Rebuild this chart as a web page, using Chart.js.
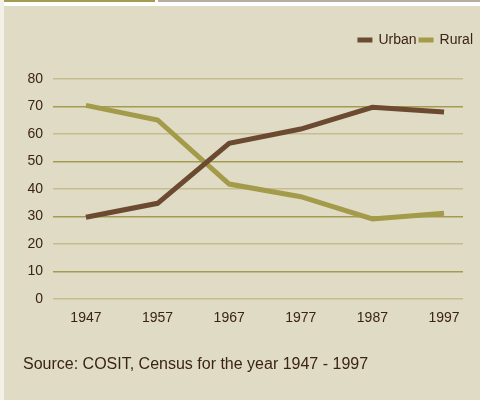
<!DOCTYPE html>
<html>
<head>
<meta charset="utf-8">
<script src="https://cdn.jsdelivr.net/npm/chart.js@4"></script>
<style>
body{margin:0;background:#fff;}
#wrap{position:relative;width:480px;height:400px;overflow:hidden;background:#fff;}
#left{position:absolute;left:0;top:0;width:4px;height:400px;background:#f3f0e8;}
#bar1{position:absolute;left:4px;top:0;width:151px;height:2px;background:#a39b4f;}
#bar2{position:absolute;left:158px;top:0;width:322px;height:2px;background:#b9ada2;}
#panel{position:absolute;left:4px;top:6px;width:476px;height:394px;background:#e0dbc5;}
#src{position:absolute;left:23px;top:355px;font:16px 'Liberation Sans',Arial,sans-serif;color:#3c2415;}
canvas{position:absolute;left:0;top:0;}
</style>
</head>
<body>
<div id="wrap">
<div id="left"></div><div id="bar1"></div><div id="bar2"></div>
<div id="panel"></div>
<canvas id="myChart" width="480" height="400"></canvas>
<div id="src">Source: COSIT, Census for the year 1947 - 1997</div>
</div>
<script>
const years=[1947,1957,1967,1977,1987,1997]
const urban=[29.7,34.8,56.6,61.8,69.7,68.0]
const rural=[70.4,65.1,41.8,37.2,29.1,31.2]
const yTicks=[0,10,20,30,40,50,60,70,80]

const brown='#6b4a31', olive='#a39b4a', txt='#3c2415'
const sans="'Liberation Sans',Arial,sans-serif"

// legend drawn by hand so it can sit right of the plot area
const myLegend={
  id:'myLegend',
  afterDraw(chart){
    const c=chart.ctx
    c.save()
    c.font='14px '+sans
    c.textBaseline='middle'
    let x=473, y=40
    const ds=chart.data.datasets.slice().reverse()
    ds.forEach(d=>{
      const w=c.measureText(d.label).width
      c.fillStyle=txt
      c.fillText(d.label,x-w,y)
      x-=w+6
      c.fillStyle=d.borderColor
      c.fillRect(x-15,y-2.5,15,5)
      x-=15+2
    })
    c.restore()
  }
}

const ctx=document.getElementById('myChart')
new Chart(ctx,{
  type:'line',
  data:{
    datasets:[
      {label:'Urban',data:years.map((y,i)=>({x:y,y:urban[i]})),borderColor:brown,borderWidth:5,pointRadius:0,tension:0},
      {label:'Rural',data:years.map((y,i)=>({x:y,y:rural[i]})),borderColor:olive,borderWidth:5,pointRadius:0,tension:0}
    ]
  },
  options:{
    responsive:false,
    animation:false,
    layout:{padding:{left:0,right:17,top:79,bottom:0}},
    plugins:{legend:{display:false},tooltip:{enabled:false}},
    scales:{
      x:{
        type:'linear',min:1942.4,max:1999.65,
        afterBuildTicks(s){s.ticks=years.map(v=>({value:v}))},
        afterFit(s){s.height=101},
        grid:{display:false,drawTicks:false},border:{display:false},
        ticks:{padding:11,color:txt,font:{family:sans,size:14},callback:v=>String(v),maxRotation:0,autoSkip:false}
      },
      y:{
        min:0,max:80,
        afterBuildTicks(s){s.ticks=yTicks.map(v=>({value:v}))},
        afterFit(s){s.width=53},
        border:{display:false},
        grid:{drawTicks:false,lineWidth:1.5,color:c=>(c.tick && c.tick.value%20===0)?'#c4bd90':'#a39b50'},
        ticks:{padding:10,color:txt,font:{family:sans,size:14}}
      }
    }
  },
  plugins:[myLegend]
})
</script>
</body>
</html>
